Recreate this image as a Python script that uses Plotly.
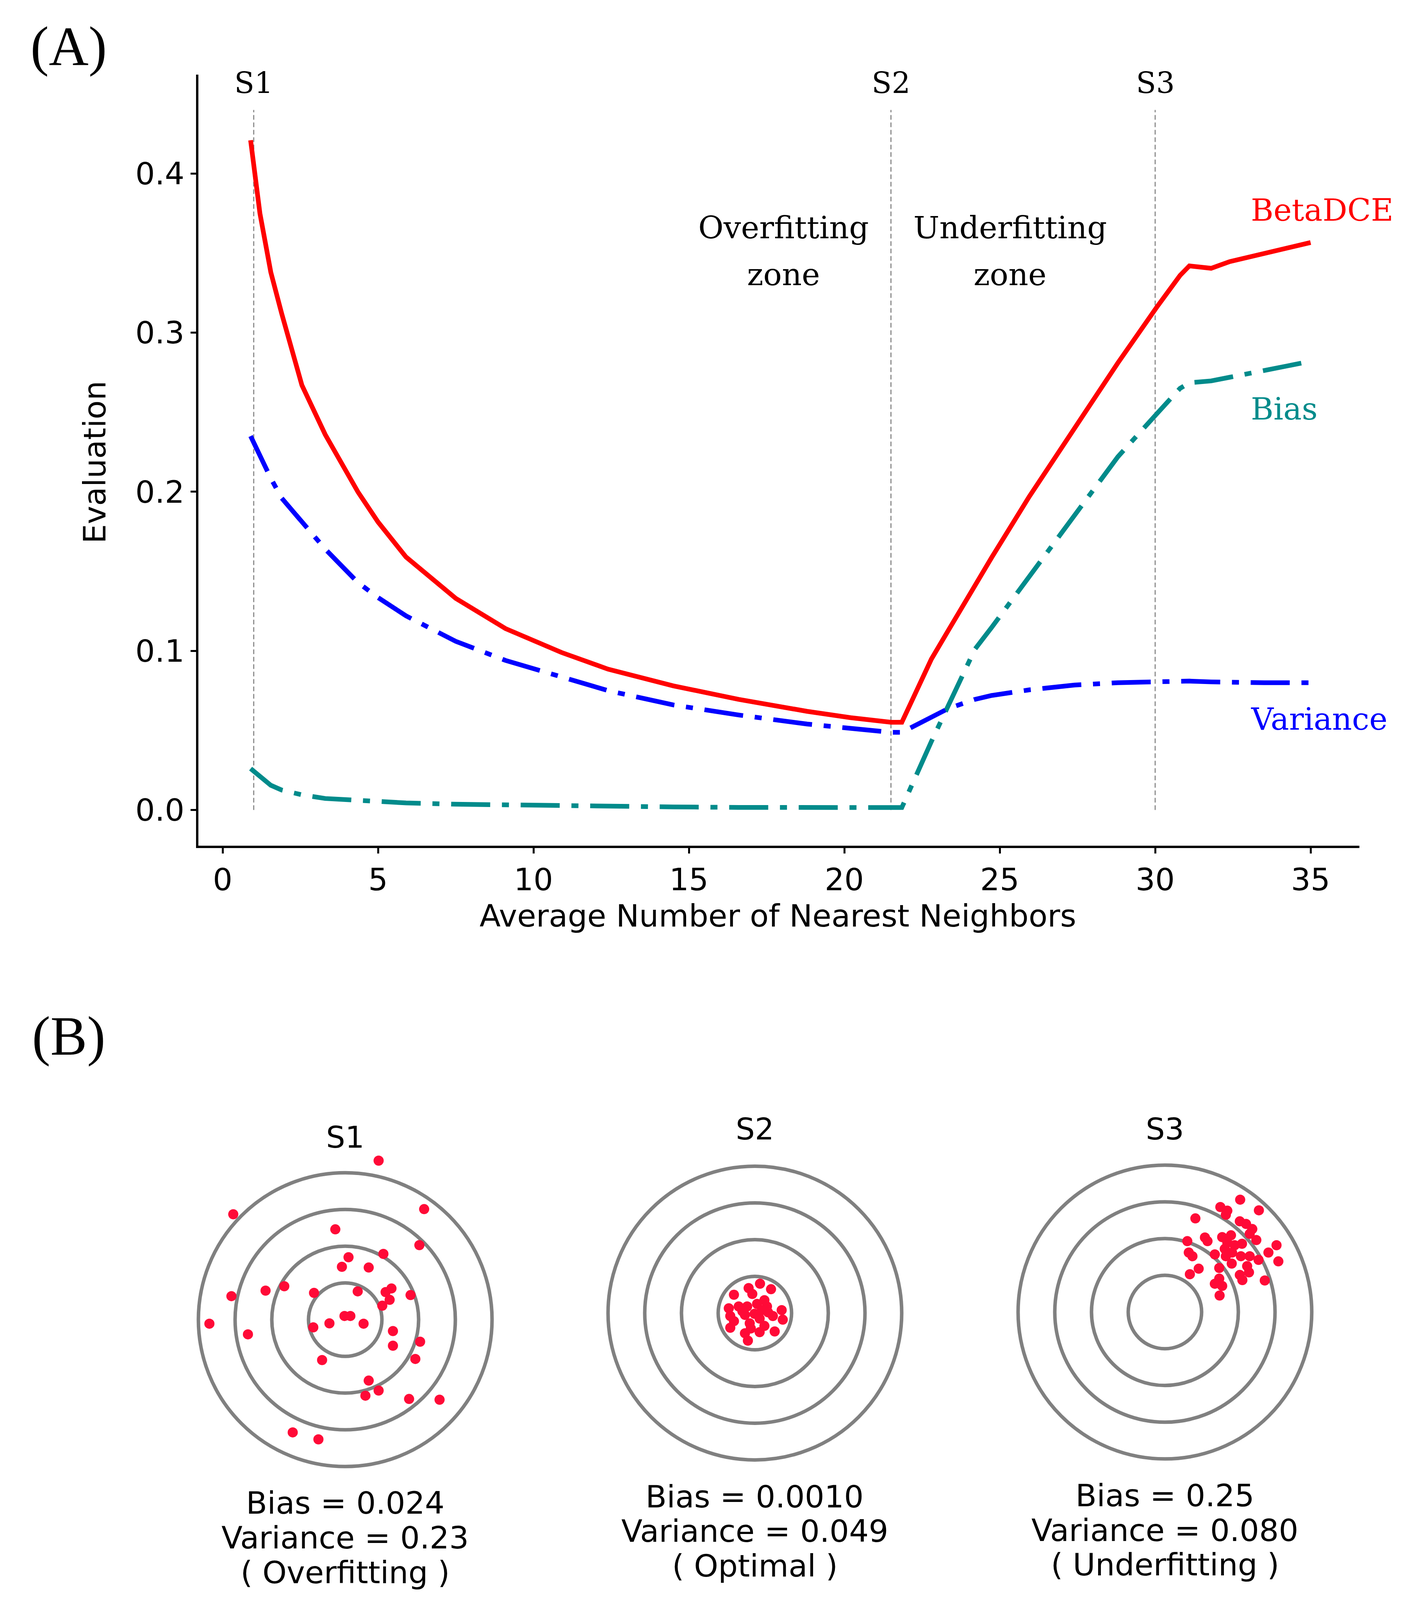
import plotly.graph_objects as go

# the browser viewport is 3649 x 4096, so the reference layout (3649 x 4617)
# is kept in paper fractions and squeezed into the visible height
W, H = 3649, 4096
REF_H = 4617
FS = 0.94  # font scale for the squeezed height
RING_PX = 94  # pixels per ring unit on the targets (same on both axes)

# ---- panel A data -------------------------------------------------------
neighbors = [0.9, 1.2, 1.55, 1.9, 2.55, 3.3, 4.35, 5.0, 5.9, 7.5, 9.1, 10.9,
             12.4, 14.5, 16.6, 18.8, 20.2, 21.5, 21.85, 22.8, 23.35, 24.2,
             24.75, 25.95, 26.7, 27.4, 28.8, 30.05, 30.8, 31.1, 31.8, 32.4,
             33.5, 35.0]
betadce = [0.421, 0.375, 0.338, 0.312, 0.267, 0.236, 0.200, 0.181, 0.159,
           0.133, 0.114, 0.099, 0.0885, 0.078, 0.0695, 0.062, 0.058, 0.0551,
           0.0551, 0.0948, 0.113, 0.141, 0.159, 0.197, 0.219, 0.2395, 0.281,
           0.316, 0.336, 0.342, 0.3405, 0.3447, 0.350, 0.3567]
variance = [0.235, 0.222, 0.2085, 0.196, 0.181, 0.164, 0.143, 0.1335, 0.122,
            0.106, 0.094, 0.084, 0.075, 0.066, 0.0597, 0.054, 0.051, 0.0488,
            0.0488, 0.058, 0.0638, 0.0695, 0.072, 0.0755, 0.077, 0.0785,
            0.080, 0.0808, 0.081, 0.081, 0.0805, 0.0802, 0.080, 0.080]
bias = [0.026, 0.021, 0.0155, 0.0125, 0.0095, 0.0072, 0.0058, 0.0050, 0.0044,
        0.0036, 0.0031, 0.0026, 0.0022, 0.0019, 0.0016, 0.0013, 0.0011,
        0.0010, 0.0015, 0.043, 0.066, 0.101, 0.115, 0.147, 0.166, 0.185,
        0.222, 0.249, 0.265, 0.2685, 0.2697, 0.272, 0.2765, 0.282]

stage_names = ["S1", "S2", "S3"]
stage_x = [1, 21.5, 30]
stage_line_top = 0.44

# ---- panel B data (hit positions, in ring units) --------------------------
ring_radii = [1, 2, 3, 4]

s1_x = [0.91, -3.05, 2.15, -0.27, 2.02, 1.04, 0.09, -0.09, 0.64, -1.66, -2.17,
        -3.10, -0.85, 0.34, 1.10, 1.26, 1.78, 1.21, 1.01, -0.02, 0.14, -0.43,
        0.50, -0.87, -3.70, -2.65, 1.30, 2.04, 1.30, -0.63, 1.91, 0.64, 0.91,
        0.55, 1.74, 2.57, -1.43, -0.73]
s1_y = [4.33, 2.87, 3.01, 2.46, 2.03, 1.79, 1.70, 1.44, 1.42, 0.91, 0.79,
        0.64, 0.73, 0.77, 0.75, 0.85, 0.67, 0.54, 0.38, 0.10, 0.10, -0.10,
        -0.11, -0.21, -0.11, -0.40, -0.31, -0.60, -0.71, -1.10, -1.07, -1.66,
        -1.93, -2.07, -2.16, -2.18, -3.07, -3.26]

s2_x = [-0.57, -0.17, 0.14, 0.44, -0.07, 0.26, -0.71, -0.44, -0.21, 0.06,
        0.33, 0.73, 0.76, 0.49, -0.67, -0.57, -0.67, -0.27, -0.01, 0.13,
        -0.14, -0.27, -0.19, 0.13, 0.54, 0.26, -0.34, 0.19, -0.11, 0.36]
s2_y = [0.50, 0.68, 0.80, 0.65, 0.52, 0.35, 0.13, 0.18, 0.18, 0.25, 0.18,
        0.08, -0.18, -0.08, -0.08, -0.22, -0.40, -0.05, -0.02, -0.15, -0.28,
        -0.55, -0.75, -0.52, -0.50, -0.35, 0.05, 0.08, -0.42, 0.02]

s3_x = [2.05, 1.51, 1.70, 1.66, 2.56, 0.83, 2.04, 2.21, 2.38, 2.31, 2.49,
        3.04, 1.09, 1.16, 0.61, 1.56, 1.80, 1.70, 1.90, 2.10, 1.63, 1.83,
        1.66, 0.65, 0.75, 1.36, 2.07, 2.31, 2.55, 2.82, 3.09, 1.82, 2.24,
        2.29, 2.04, 0.92, 0.68, 1.48, 2.72, 2.11, 1.48, 1.36, 1.56, 1.49]
s3_y = [3.06, 2.86, 2.76, 2.65, 2.77, 2.55, 2.47, 2.40, 2.26, 2.13, 1.96,
        1.82, 2.03, 1.93, 1.93, 2.04, 2.09, 1.89, 1.82, 1.86, 1.72, 1.62,
        1.52, 1.62, 1.52, 1.57, 1.52, 1.52, 1.42, 1.62, 1.38, 1.32, 1.25,
        1.08, 1.01, 1.18, 1.03, 1.20, 0.86, 0.87, 0.91, 0.77, 0.71, 0.45]

target_lines = [
    ["Bias = 0.024", "Variance = 0.23", "( Overfitting )"],
    ["Bias = 0.0010", "Variance = 0.049", "( Optimal )"],
    ["Bias = 0.25", "Variance = 0.080", "( Underfitting )"],
]

# ---- helpers --------------------------------------------------------------
def fx(px):
    return px / W


def fy(py):
    # py measured on the 4617 px tall reference
    return 1 - py / REF_H


def fs(size):
    return round(size * FS)


SANS = "DejaVu Sans"
SERIF = "DejaVu Serif"
RED = "#ff0000"
BLUE = "#0000ff"
TEAL = "#008b8b"
DOT = "#ff0a37"
DASHDOT = "100px,30px,18px,30px"


def note(text, x, y, size, family=SANS, color="black", xref="paper",
         yref="paper", xanchor="center", angle=0):
    return dict(text=text, x=x, y=y, xref=xref, yref=yref, xanchor=xanchor,
                yanchor="middle", showarrow=False, textangle=angle,
                font=dict(family=family, size=fs(size), color=color))


fig = go.Figure()

# Panel A curves
for xv in stage_x:
    fig.add_trace(go.Scatter(x=[xv, xv], y=[0, stage_line_top], mode="lines",
                             line=dict(color="#8c8c8c", width=3, dash="12px,7px"),
                             showlegend=False, hoverinfo="skip"))

fig.add_trace(go.Scatter(x=neighbors, y=bias, mode="lines", name="Bias",
                         line=dict(color=TEAL, width=12, dash=DASHDOT)))
fig.add_trace(go.Scatter(x=neighbors, y=variance, mode="lines", name="Variance",
                         line=dict(color=BLUE, width=12, dash=DASHDOT)))
fig.add_trace(go.Scatter(x=neighbors, y=betadce, mode="lines", name="BetaDCE",
                         line=dict(color=RED, width=12)))

# Panel B targets
targets = [(s1_x, s1_y), (s2_x, s2_y), (s3_x, s3_y)]
for i, (tx, ty) in enumerate(targets):
    ax = str(i + 2)
    for r in ring_radii:
        fig.add_shape(type="circle", xref="x" + ax, yref="y" + ax,
                      x0=-r, y0=-r, x1=r, y1=r,
                      line=dict(color="#808080", width=9), layer="below")
    fig.add_trace(go.Scatter(x=tx, y=ty, mode="markers", xaxis="x" + ax,
                             yaxis="y" + ax, showlegend=False,
                             marker=dict(color=DOT, size=26, line=dict(width=0))))

# target centres (reference px) and layout of axes
centres = [(876, 3799), (1925, 3780), (2975, 3777)]
half = 500  # half box size in reference px
dom_w = 2 * half                   # rendered px wide
dom_h = 2 * half * H / REF_H       # rendered px tall
xr = dom_w / 2 / RING_PX
yr = dom_h / 2 / RING_PX
layout_axes = {}
for i, (cx, cy) in enumerate(centres):
    ax = str(i + 2)
    layout_axes["xaxis" + ax] = dict(range=[-xr, xr], visible=False, fixedrange=True,
                                     domain=[fx(cx - half), fx(cx + half)],
                                     anchor="y" + ax)
    layout_axes["yaxis" + ax] = dict(range=[-yr, yr], visible=False, fixedrange=True,
                                     domain=[fy(cy + half), fy(cy - half)],
                                     anchor="x" + ax)

annotations = [
    note("(A)", fx(168), fy(124), 150, family="Liberation Serif"),
    note("(B)", fx(168), fy(2981), 150, family="Liberation Serif"),
    note("Average Number of Nearest Neighbors", fx(1984), fy(2634), 84),
    note("Evaluation", fx(235), fy(1324), 84, angle=-90),
]

# stage labels over vertical lines
for name, xv in zip(stage_names, stage_x):
    annotations.append(note(name, xv, 0.457, 80, family=SERIF, xref="x", yref="y"))

# zone labels
for txt, xv, yv in [("Overfitting", 18.05, 0.366), ("zone", 18.05, 0.3366),
                    ("Underfitting", 25.33, 0.366), ("zone", 25.33, 0.3366)]:
    annotations.append(note(txt, xv, yv, 84, family=SERIF, xref="x", yref="y"))

# curve labels
for txt, yv, col in [("BetaDCE", 0.377, RED), ("Bias", 0.252, TEAL),
                     ("Variance", 0.057, BLUE)]:
    annotations.append(note(txt, 33.05, yv, 84, family=SERIF, color=col,
                            xref="x", yref="y", xanchor="left"))

# target titles and captions
title_y = [3273, 3249, 3249]
for i, (cx, cy) in enumerate(centres):
    annotations.append(note(stage_names[i], fx(cx), fy(title_y[i]), 82))
    base = cy + 530
    for j, line in enumerate(target_lines[i]):
        annotations.append(note(line, fx(cx), fy(base + 100 * j), 84))

fig.update_layout(
    width=W,
    height=H,
    margin=dict(l=0, r=0, t=0, b=0),
    paper_bgcolor="white",
    plot_bgcolor="white",
    showlegend=False,
    xaxis=dict(domain=[fx(500), fx(3473)], range=[-0.78, 36.57],
               tickvals=[0, 5, 10, 15, 20, 25, 30, 35], ticks="outside",
               ticklen=14, tickwidth=5, tickcolor="black", showline=True,
               linewidth=6, linecolor="black", showgrid=False, zeroline=False,
               tickfont=dict(family=SANS, size=fs(84), color="black"), anchor="y"),
    yaxis=dict(domain=[fy(2431), fy(206)], range=[-0.0224, 0.4623],
               tickvals=[0.0, 0.1, 0.2, 0.3, 0.4], tickformat=".1f",
               ticks="outside", ticklen=14, tickwidth=5, tickcolor="black",
               showline=True, linewidth=6, linecolor="black", showgrid=False,
               zeroline=False, tickfont=dict(family=SANS, size=fs(84), color="black"),
               anchor="x"),
    annotations=annotations,
    **layout_axes,
)

fig.write_html("out.html")
